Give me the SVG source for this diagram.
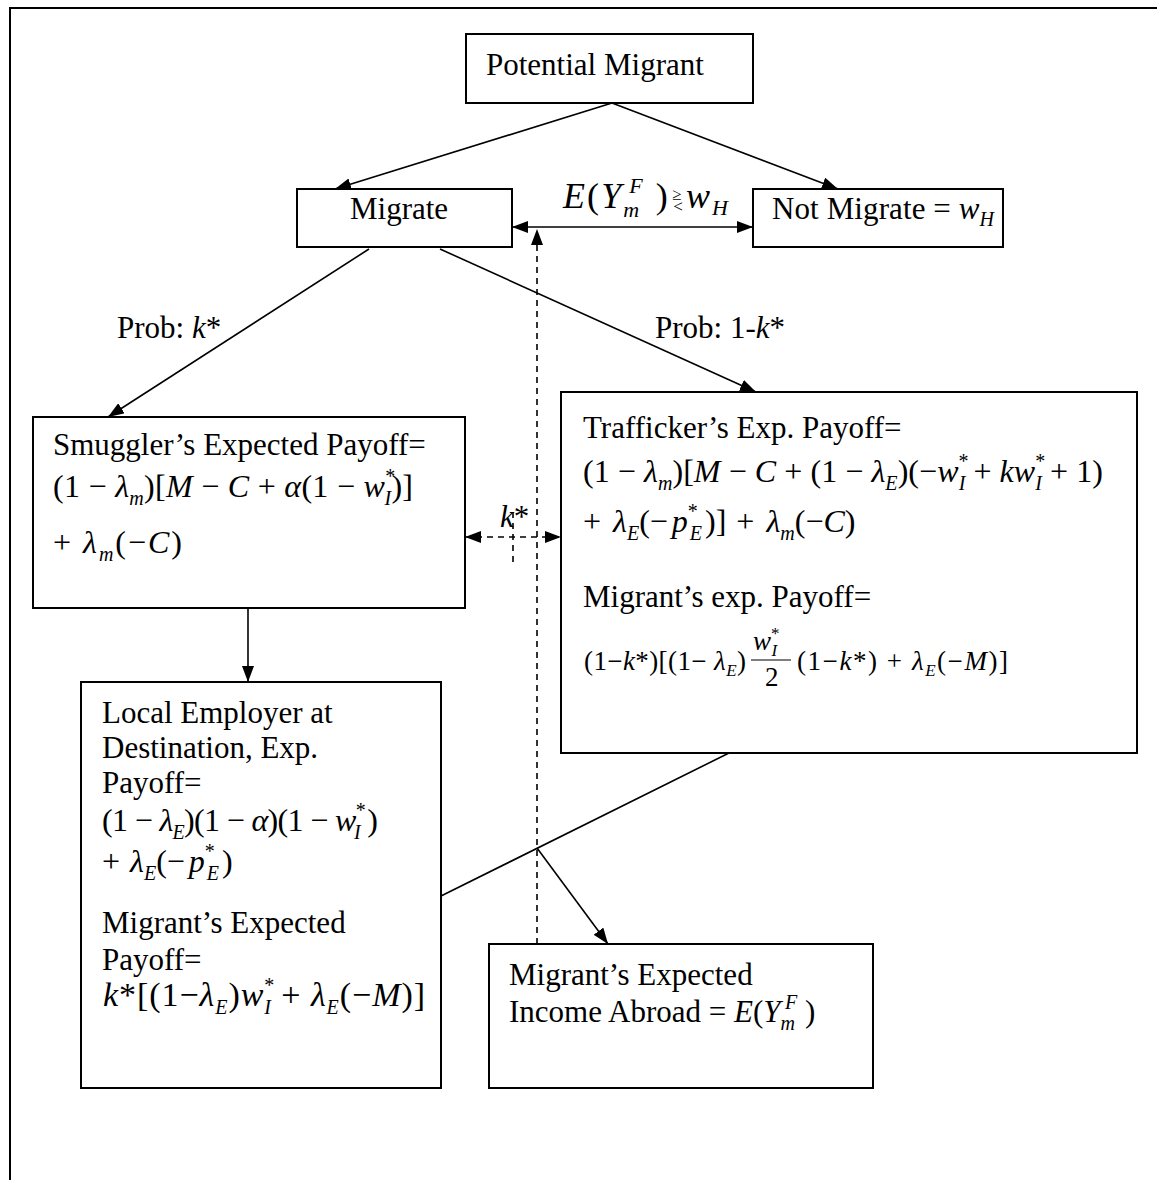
<svg xmlns="http://www.w3.org/2000/svg" width="1157" height="1180" viewBox="0 0 1157 1180">
<style>
text{font-family:"Liberation Serif","Times New Roman",serif;font-size:31px;fill:#000}
.i{font-style:italic}
.s{font-size:20px}
.eq{font-size:32px}
.m{font-size:27px}
.ms{font-size:17px}
.box{fill:#fff;stroke:#000;stroke-width:2}
.ln{fill:none;stroke:#000;stroke-width:1.6}
.da{stroke-dasharray:6 5}
.frame{fill:none;stroke:#000;stroke-width:2}
</style>
<defs>
<marker id="ah" viewBox="0 0 16 12" refX="16" refY="6" markerWidth="16" markerHeight="12" markerUnits="userSpaceOnUse" orient="auto-start-reverse"><path d="M0,0 L16,6 L0,12 z" fill="#000"/></marker>
</defs>
<rect width="1157" height="1180" fill="#fff"/>
<path class="frame" d="M10,1180 V8 H1157"/>

<g id="n-potential">
<rect class="box" x="466" y="34" width="287" height="69"/>
<text x="486" y="75">Potential Migrant</text>
</g>
<g id="n-migrate">
<rect class="box" x="297" y="189" width="215" height="58"/>
<text x="350" y="219">Migrate</text>
</g>
<g id="n-notmigrate">
<rect class="box" x="753" y="189" width="250" height="58"/>
<text x="772" y="219" textLength="222" lengthAdjust="spacing">Not Migrate = <tspan class="i">w</tspan><tspan class="s i" dy="7">H</tspan></text>
</g>
<g id="n-smuggler">
<rect class="box" x="33" y="417" width="432" height="191"/>
<text x="53" y="455">Smuggler’s Expected Payoff=</text>
<text class="eq" x="53" y="497" textLength="360" lengthAdjust="spacing">(1 − <tspan class="i">λ</tspan><tspan class="s i" dy="8">m</tspan><tspan dy="-8">)[</tspan><tspan class="i">M</tspan> − <tspan class="i">C</tspan> + <tspan class="i">α</tspan>(1 − <tspan class="i">w</tspan><tspan class="s" dy="-14">*</tspan><tspan class="s i" dx="-11" dy="22">I</tspan><tspan dy="-8">)]</tspan></text>
<text class="eq" x="53" y="553" textLength="129" lengthAdjust="spacing">+ <tspan class="i">λ</tspan><tspan class="s i" dy="8">m</tspan><tspan dy="-8">(−</tspan><tspan class="i">C</tspan>)</text>
</g>
<g id="n-trafficker">
<rect class="box" x="561" y="392" width="576" height="361"/>
<text x="583" y="438">Trafficker’s Exp. Payoff=</text>
<text class="eq" x="583" y="482" textLength="520" lengthAdjust="spacing">(1 − <tspan class="i">λ</tspan><tspan class="s i" dy="8">m</tspan><tspan dy="-8">)[</tspan><tspan class="i">M</tspan> − <tspan class="i">C</tspan> + (1 − <tspan class="i">λ</tspan><tspan class="s i" dy="8">E</tspan><tspan dy="-8">)(−</tspan><tspan class="i">w</tspan><tspan class="s" dy="-14">*</tspan><tspan class="s i" dx="-10" dy="22">I</tspan><tspan dy="-8"> + </tspan><tspan class="i">kw</tspan><tspan class="s" dy="-14">*</tspan><tspan class="s i" dx="-10" dy="22">I</tspan><tspan dy="-8"> + 1)</tspan></text>
<text class="eq" x="583" y="532">+<tspan class="i" dx="12">λ</tspan><tspan class="s i" dy="8">E</tspan><tspan dy="-8">(−</tspan><tspan class="i" dx="4">p</tspan><tspan class="s" dy="-14">*</tspan><tspan class="s i" dx="-8" dy="22">E</tspan><tspan dy="-8" dx="3">)]</tspan><tspan dx="10">+</tspan><tspan class="i" dx="12">λ</tspan><tspan class="s i" dy="8">m</tspan><tspan dy="-8">(−</tspan><tspan class="i">C</tspan>)</text>
<text x="583" y="607">Migrant’s exp. Payoff=</text>
<text class="m" x="584" y="670" textLength="162" lengthAdjust="spacing">(1−<tspan class="i">k</tspan>*)[(1− <tspan class="i">λ</tspan><tspan class="ms i" dy="6">E</tspan><tspan dy="-6">)</tspan></text>
<text class="m" x="753" y="650"><tspan class="i">w</tspan><tspan class="ms" dy="-11">*</tspan><tspan class="ms i" dx="-8" dy="17">I</tspan></text>
<line x1="751" y1="660" x2="791" y2="660" stroke="#000" stroke-width="1.2"/>
<text class="m" x="765" y="686">2</text>
<text class="m" x="797" y="670" textLength="211" lengthAdjust="spacing">(1−<tspan class="i">k</tspan>*) + <tspan class="i">λ</tspan><tspan class="ms i" dy="6">E</tspan><tspan dy="-6">(−</tspan><tspan class="i">M</tspan>)]</text>
</g>
<g id="n-employer">
<rect class="box" x="81" y="682" width="360" height="406"/>
<text x="102" y="723">Local Employer at</text>
<text x="102" y="758">Destination, Exp.</text>
<text x="102" y="793">Payoff=</text>
<text class="eq" x="102" y="831" textLength="276" lengthAdjust="spacing">(1 − <tspan class="i">λ</tspan><tspan class="s i" dy="8">E</tspan><tspan dy="-8">)(1 − </tspan><tspan class="i">α</tspan>)(1 − <tspan class="i">w</tspan><tspan class="s" dy="-14">*</tspan><tspan class="s i" dx="-11" dy="22">I</tspan><tspan dy="-8"> )</tspan></text>
<text class="eq" x="102" y="872">+<tspan class="i" dx="10">λ</tspan><tspan class="s i" dy="8">E</tspan><tspan dy="-8">(−</tspan><tspan class="i" dx="4">p</tspan><tspan class="s" dy="-14">*</tspan><tspan class="s i" dx="-8" dy="22">E</tspan><tspan dy="-8" dx="3">)</tspan></text>
<text x="102" y="933">Migrant’s Expected</text>
<text x="102" y="970">Payoff=</text>
<text x="103" y="1006" style="font-size:34px" textLength="322" lengthAdjust="spacing"><tspan class="i">k</tspan>*[(1−<tspan class="i">λ</tspan><tspan class="s i" dy="8">E</tspan><tspan dy="-8">)</tspan><tspan class="i">w</tspan><tspan class="s" dy="-14">*</tspan><tspan class="s i" dx="-11" dy="22">I</tspan><tspan dy="-8"> + </tspan><tspan class="i">λ</tspan><tspan class="s i" dy="8">E</tspan><tspan dy="-8">(−</tspan><tspan class="i">M</tspan>)]</text>
</g>
<g id="n-income">
<rect class="box" x="489" y="944" width="384" height="144"/>
<text x="509" y="985">Migrant’s Expected</text>
<text x="509" y="1022">Income Abroad = <tspan class="i">E</tspan>(<tspan class="i">Y</tspan><tspan class="s i" dy="8">m</tspan><tspan class="s i" dx="-10" dy="-21">F</tspan><tspan dy="13"> )</tspan></text>
</g>

<g id="connectors">
<path class="ln" d="M612,103 L335,189" marker-end="url(#ah)"/>
<path class="ln" d="M612,103 L838,189" marker-end="url(#ah)"/>
<path class="ln" d="M512,227 L753,227" marker-start="url(#ah)" marker-end="url(#ah)"/>
<path class="ln da" d="M537,944 L537,229" marker-end="url(#ah)"/>
<path class="ln" d="M369,249 L108,417" marker-end="url(#ah)"/>
<path class="ln" d="M440,249 L756,392" marker-end="url(#ah)"/>
<path class="ln da" d="M465,537 L561,537" marker-start="url(#ah)" marker-end="url(#ah)"/>
<path class="ln da" d="M513,512 L513,562"/>
<path class="ln" d="M248,608 L248,682" marker-end="url(#ah)"/>
<path class="ln" d="M729,753 L441,896"/>
<path class="ln" d="M537,848 L608,944" marker-end="url(#ah)"/>
<text x="563" y="208" style="font-size:36px" textLength="165" lengthAdjust="spacing"><tspan class="i">E</tspan>(<tspan class="i">Y</tspan><tspan class="i" style="font-size:22px" dy="9">m</tspan><tspan class="i" style="font-size:22px" dx="-12" dy="-24">F</tspan><tspan dy="15"> )</tspan><tspan style="font-size:17px" dx="2" dy="-8">≥</tspan><tspan style="font-size:17px" dx="-10" dy="12">&lt;</tspan><tspan class="i" dx="1" dy="-4">w</tspan><tspan class="i" style="font-size:22px" dy="7">H</tspan></text>
<text x="117" y="338">Prob: <tspan class="i">k</tspan>*</text>
<text x="655" y="338">Prob: 1-<tspan class="i">k</tspan>*</text>
<text x="500" y="527"><tspan class="i">k</tspan>*</text>
</g>
</svg>
